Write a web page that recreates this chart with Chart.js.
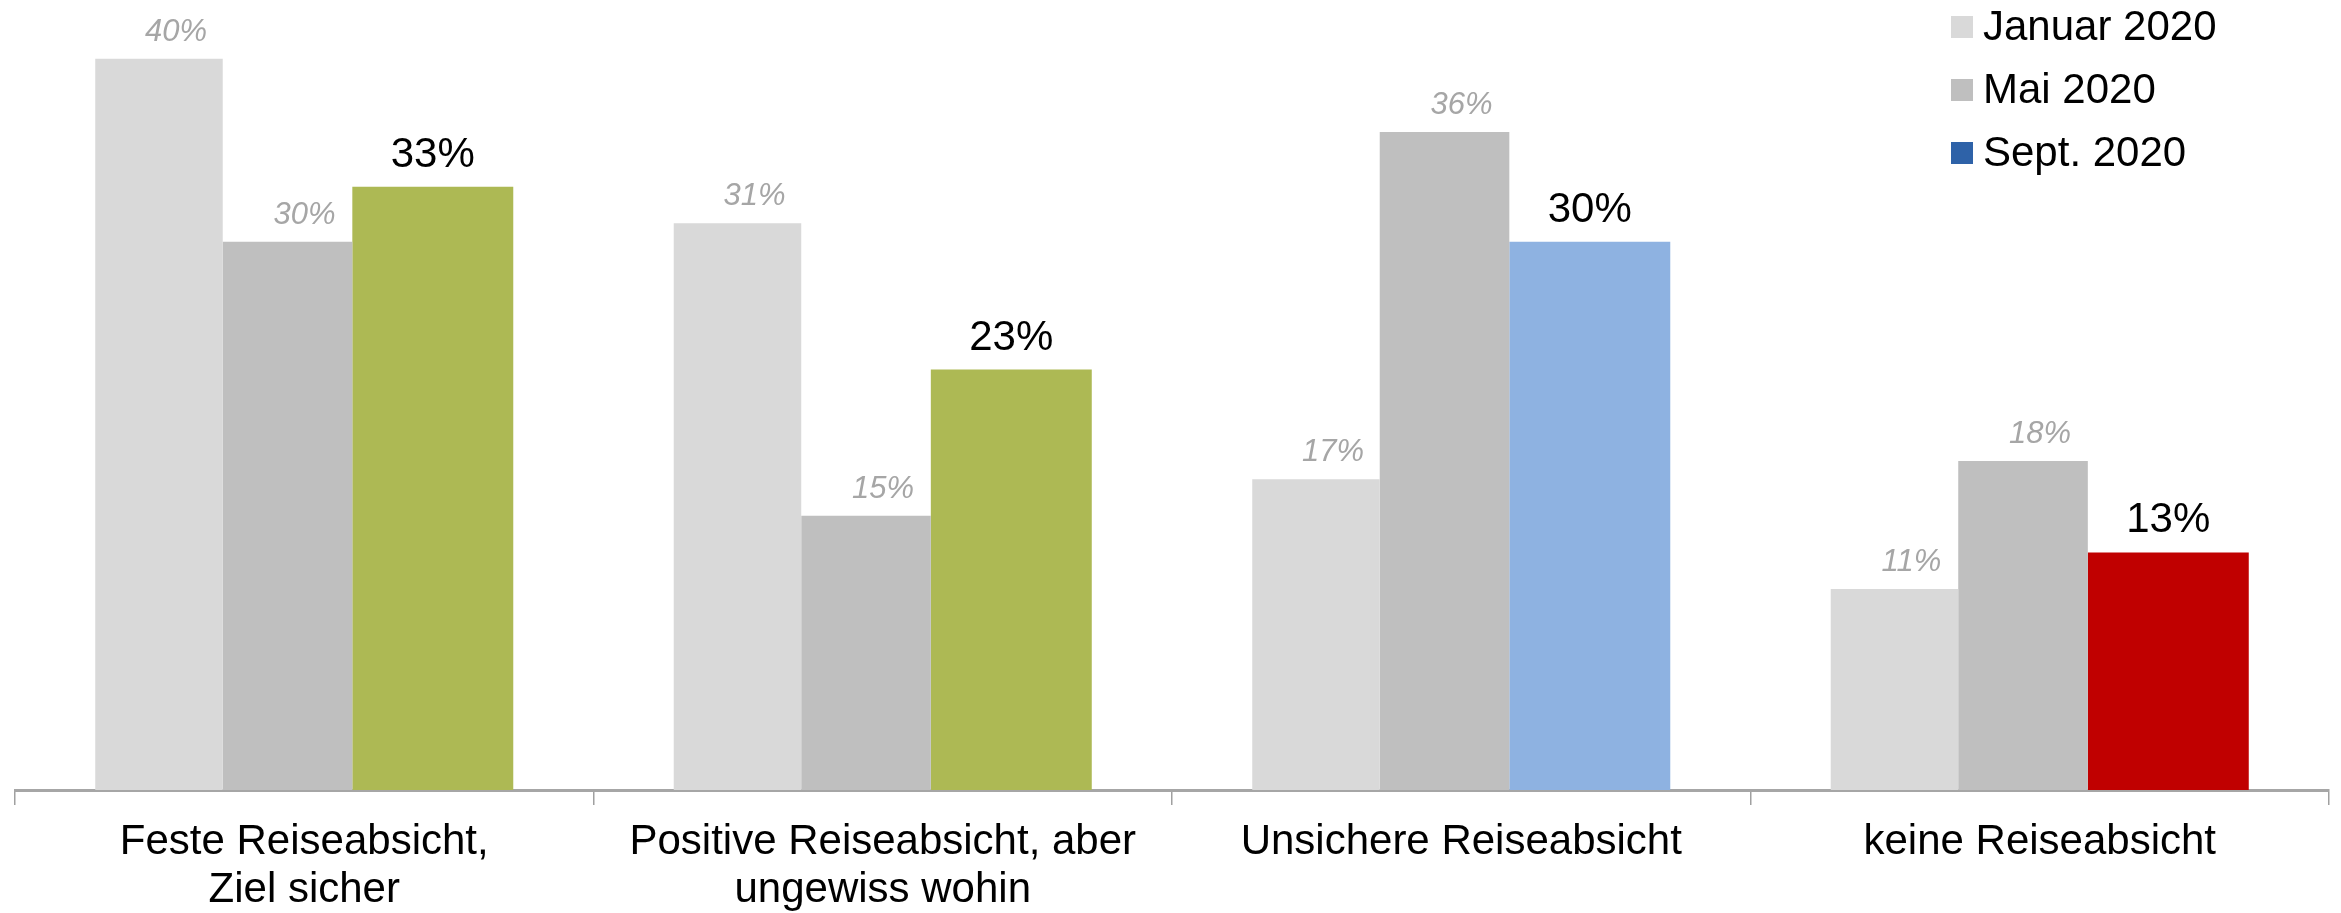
<!DOCTYPE html>
<html lang="de">
<head>
  <meta charset="UTF-8" />
  <title>Reiseabsicht 2020</title>
  <script src="https://cdn.jsdelivr.net/npm/chart.js"></script>
  <style>
    body {
      margin: 0;
      background: #ffffff;
    }
    .chart-box {
      width: 2341px;
      height: 913px;
      position: relative;
    }
  </style>
</head>
<body>
  <div class="chart-box">
    <canvas id="chart"></canvas>
  </div>

  <script>
    const categories = [
      ['Feste Reiseabsicht,', 'Ziel sicher'],
      ['Positive Reiseabsicht, aber', 'ungewiss wohin'],
      ['Unsichere Reiseabsicht'],
      ['keine Reiseabsicht']
    ];
    const seriesNames = ['Januar 2020', 'Mai 2020', 'Sept. 2020'];
    const jan2020 = [40, 31, 17, 11];
    const mai2020 = [30, 15, 36, 18];
    const sept2020 = [33, 23, 30, 13];

    const FONT = "'Liberation Sans', Arial, sans-serif";
    const septColors = ['#adb954', '#adb954', '#8eb2e1', '#c00000'];
    const legendColors = ['#d9d9d9', '#bfbfbf', '#2e62a8'];
    // Sept. bars are drawn a bit wider than the two grey ones
    const widthShare = [0.305, 0.31, 0.385];

    const barWidths = {
      id: 'barWidths',
      beforeDatasetsDraw(chart) {
        const metas = chart.data.datasets.map((d, i) => chart.getDatasetMeta(i));
        chart.data.labels.forEach((l, i) => {
          const bars = metas.map(m => m.data[i]);
          const left = bars[0].x - bars[0].width / 2;
          const last = bars[bars.length - 1];
          const total = last.x + last.width / 2 - left;
          let x = left;
          bars.forEach((b, j) => {
            const w = total * widthShare[j];
            b.width = w;
            b.x = x + w / 2;
            x += w;
          });
        });
      }
    };

    const valueLabels = {
      id: 'valueLabels',
      afterDatasetsDraw(chart) {
        const ctx = chart.ctx;
        ctx.save();
        ctx.textAlign = 'center';
        ctx.textBaseline = 'alphabetic';
        chart.data.datasets.forEach((ds, di) => {
          const meta = chart.getDatasetMeta(di);
          meta.data.forEach((bar, i) => {
            const txt = ds.data[i] + '%';
            if (di < 2) {
              ctx.font = 'italic 31px ' + FONT;
              ctx.fillStyle = '#a6a6a6';
              ctx.fillText(txt, bar.x + 17, bar.y - 18);
            } else {
              ctx.font = '42px ' + FONT;
              ctx.fillStyle = '#000000';
              ctx.fillText(txt, bar.x, bar.y - 20);
            }
          });
        });
        ctx.restore();
      }
    };

    const cornerLegend = {
      id: 'cornerLegend',
      afterDraw(chart) {
        const ctx = chart.ctx;
        ctx.save();
        ctx.font = '42px ' + FONT;
        ctx.textBaseline = 'alphabetic';
        ctx.textAlign = 'left';
        seriesNames.forEach((name, i) => {
          const top = 16 + i * 63;
          ctx.fillStyle = legendColors[i];
          ctx.fillRect(1951, top, 22, 22);
          ctx.fillStyle = '#000000';
          ctx.fillText(name, 1983, top + 24);
        });
        ctx.restore();
      }
    };

    new Chart(document.getElementById('chart'), {
      type: 'bar',
      data: {
        labels: categories,
        datasets: [
          { label: seriesNames[0], data: jan2020, backgroundColor: '#d9d9d9' },
          { label: seriesNames[1], data: mai2020, backgroundColor: '#bfbfbf' },
          { label: seriesNames[2], data: sept2020, backgroundColor: septColors }
        ]
      },
      options: {
        responsive: true,
        maintainAspectRatio: false,
        animation: false,
        datasets: {
          bar: { categoryPercentage: 0.7226, barPercentage: 1.0, borderWidth: 0 }
        },
        layout: { padding: { left: 15, right: 12, top: 4, bottom: -15 } },
        plugins: {
          legend: { display: false },
          tooltip: { enabled: false }
        },
        scales: {
          x: {
            grid: {
              display: true,
              drawOnChartArea: false,
              drawTicks: true,
              tickLength: 15,
              color: '#a0a0a0',
              lineWidth: 1.5
            },
            border: { display: true, color: '#a6a6a6', width: 3 },
            ticks: {
              color: '#000000',
              padding: 14,
              maxRotation: 0,
              autoSkip: false,
              font: { family: FONT, size: 42, lineHeight: 1.13 }
            }
          },
          y: {
            display: false,
            min: 0,
            max: 43
          }
        }
      },
      plugins: [barWidths, valueLabels, cornerLegend]
    });
  </script>
</body>
</html>
